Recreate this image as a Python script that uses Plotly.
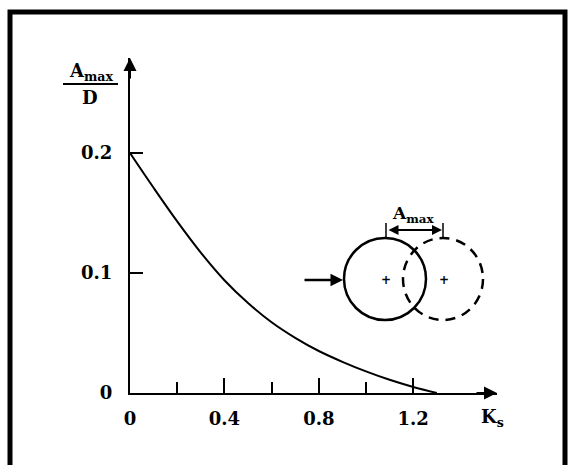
import plotly.graph_objects as go

# Maximum displacement ratio A_max/D against the parameter K_s
ks = [0.0, 0.1, 0.2, 0.3, 0.4, 0.5, 0.6, 0.7, 0.8, 0.9, 1.0, 1.1, 1.2, 1.3]
amax_d = [0.200, 0.171, 0.143, 0.117, 0.094, 0.075, 0.059, 0.046,
          0.035, 0.026, 0.018, 0.011, 0.005, 0.0]

x_major = [0, 0.4, 0.8, 1.2]
x_labels = ["0", "0.4", "0.8", "1.2"]
x_minor = [0.2, 0.6, 1.0]
y_ticks = [0, 0.1, 0.2]
y_labels = ["0", "0.1", "0.2"]

W, H = 574, 465
L, R, T, B = 130, 77, 58, 72
PW, PH = W - L - R, H - T - B

FONT = "DejaVu Serif"
INK = "black"
WEIGHT = 600


def px(x):
    """Page pixel column -> paper x."""
    return (x - L) / PW


def py(y):
    """Page pixel row -> paper y."""
    return (T + PH - y) / PH


def label(text, x, y, size=18):
    return dict(x=px(x), y=py(y), xref="paper", yref="paper", text=text,
                showarrow=False, xanchor="center", yanchor="middle",
                font=dict(family=FONT, size=size, color=INK, weight=WEIGHT))


fig = go.Figure()
fig.add_trace(go.Scatter(
    x=ks, y=amax_d, mode="lines",
    line=dict(color=INK, width=2, shape="spline", smoothing=1.0),
    hoverinfo="skip", showlegend=False, cliponaxis=False,
))

axis_common = dict(
    showline=True, linecolor=INK, linewidth=2, showgrid=False, zeroline=False,
    ticks="inside", tickcolor=INK, tickwidth=2,
    tickfont=dict(family=FONT, size=18, color=INK, weight=WEIGHT), fixedrange=True,
)

fig.update_xaxes(
    range=[0, (W - R - L) / 236], tickmode="array", tickvals=x_major, ticktext=x_labels,
    ticklen=15, ticklabelstandoff=8,
    minor=dict(tickmode="array", tickvals=x_minor, ticks="inside", ticklen=11,
               tickwidth=2, tickcolor=INK),
    **axis_common,
)
fig.update_yaxes(
    range=[0, PH / 1200], tickmode="array", tickvals=y_ticks, ticktext=y_labels,
    ticklen=13, ticklabelstandoff=12,
    **axis_common,
)

shapes = []
annotations = []

# axis arrowheads
annotations.append(dict(x=0, y=PH / 1200, xref="x", yref="y", ax=0, ay=22, text="",
                        showarrow=True, arrowhead=2, arrowsize=1.3, arrowwidth=2,
                        arrowcolor=INK))
annotations.append(dict(x=(W - R - L) / 236, y=0, xref="x", yref="y", ax=-22, ay=0, text="",
                        showarrow=True, arrowhead=2, arrowsize=1.3, arrowwidth=2,
                        arrowcolor=INK))

# axis titles
annotations.append(label("A<sub>max</sub>", 91, 72))
shapes.append(dict(type="line", xref="paper", yref="paper",
                   x0=px(63), x1=px(118), y0=py(84), y1=py(84),
                   line=dict(color=INK, width=2)))
annotations.append(label("D", 90, 97))
annotations.append(label("K<sub>s</sub>", 492, 418))

# inset sketch: shaft section before (solid) and after (dashed) displacement
cx1, cx2, cy, r = 385, 443, 279, 41
shapes.append(dict(type="circle", xref="paper", yref="paper",
                   x0=px(cx1 - r), x1=px(cx1 + r), y0=py(cy + r), y1=py(cy - r),
                   line=dict(color=INK, width=2.5)))
shapes.append(dict(type="circle", xref="paper", yref="paper",
                   x0=px(cx2 - 40), x1=px(cx2 + 40), y0=py(cy + 41), y1=py(cy - 41),
                   line=dict(color=INK, width=2.5, dash="10px,7px")))
for cx in (cx1, cx2):
    annotations.append(label("+", cx + 1, cy + 1, size=12))

# applied force arrow
annotations.append(dict(x=px(cx1 - r - 1), y=py(cy + 1), xref="paper", yref="paper",
                        ax=-40, ay=0, text="", showarrow=True, arrowhead=2,
                        arrowsize=1.0, arrowwidth=2.5, arrowcolor=INK))

# displacement dimension
dim_y = 230
for cx in (cx1 + 1, cx2):
    shapes.append(dict(type="line", xref="paper", yref="paper",
                       x0=px(cx), x1=px(cx), y0=py(dim_y - 7), y1=py(dim_y + 7),
                       line=dict(color=INK, width=1.5)))
annotations.append(dict(x=px(cx2 - 1), y=py(dim_y), xref="paper", yref="paper",
                        ax=-(cx2 - cx1 - 3), ay=0, text="", showarrow=True,
                        arrowhead=2, startarrowhead=2, arrowside="end+start",
                        arrowsize=1.0, startarrowsize=1.0, arrowwidth=2,
                        arrowcolor=INK))
annotations.append(label("A<sub>max</sub>", 413, 214, size=17))

# frame around the figure
shapes.append(dict(type="rect", xref="paper", yref="paper",
                   x0=px(10), x1=px(565), y0=py(480), y1=py(12),
                   line=dict(color=INK, width=5)))

fig.update_layout(
    width=W, height=H,
    margin=dict(l=L, r=R, t=T, b=B, pad=0),
    paper_bgcolor="white", plot_bgcolor="white",
    shapes=shapes, annotations=annotations,
    showlegend=False,
)

fig.write_html("out.html", config={"displayModeBar": False})
